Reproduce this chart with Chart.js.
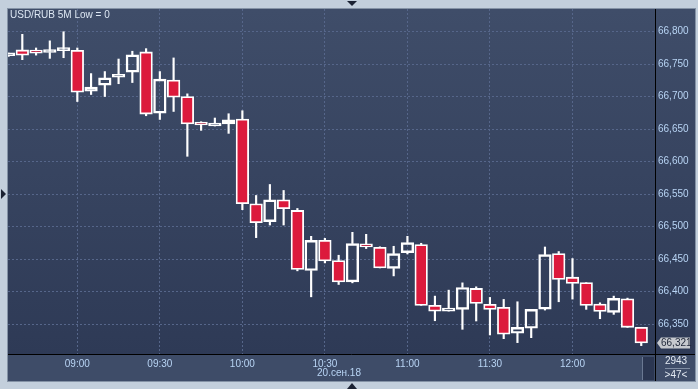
<!DOCTYPE html>
<html><head><meta charset="utf-8">
<script src="https://cdn.jsdelivr.net/npm/chart.js@4.4.1/dist/chart.umd.min.js"></script>
<style>html,body{margin:0;padding:0;background:#c3cfdc;}canvas{display:block;}</style>
</head><body>
<canvas id="c" width="698" height="389"></canvas>
<script>
const titleText = 'USD/RUB 5M Low = 0';
const dateLabel = '20.сен.18';
const barCountText = '2943';
const visibleCountText = '>47<';
const times = ['08:35','08:40','08:45','08:50','08:55','09:00','09:05','09:10','09:15','09:20','09:25','09:30',
  '09:35','09:40','09:45','09:50','09:55','10:00','10:05','10:10','10:15','10:20','10:25','10:30',
  '10:35','10:40','10:45','10:50','10:55','11:00','11:05','11:10','11:15','11:20','11:25','11:30',
  '11:35','11:40','11:45','11:50','11:55','12:00','12:05','12:10','12:15','12:20','12:25'];
const opens  = [66.763,66.772,66.770,66.768,66.771,66.7715,66.7086,66.7178,66.730,66.7377,66.7689,66.6748,
  66.7255,66.7003,66.6595,66.6549,66.658,66.6656,66.5353,66.5077,66.5414,66.525,66.4325,66.479,
  66.4478,66.415,66.4724,66.4683,66.4356,66.4601,66.4724,66.3788,66.370,66.3727,66.4049,66.3804,
  66.3758,66.3359,66.3436,66.3731,66.4586,66.4222,66.4141,66.3809,66.3681,66.389,66.3451];
const highs  = [66.767,66.796,66.775,66.786,66.800,66.775,66.7356,66.7387,66.758,66.770,66.774,66.7387,
  66.7597,66.7044,66.6615,66.6672,66.6738,66.6784,66.548,66.5649,66.5557,66.528,66.4851,66.482,
  66.456,66.4913,66.4882,66.469,66.4698,66.4851,66.4744,66.3931,66.4023,66.4135,66.4074,66.3911,
  66.388,66.3844,66.3727,66.4687,66.4617,66.4509,66.4141,66.3828,66.3931,66.390,66.3451];
const lows   = [66.762,66.757,66.764,66.759,66.760,66.6926,66.7034,66.7003,66.720,66.7218,66.6707,66.665,
  66.6773,66.6083,66.6482,66.6549,66.6436,66.5261,66.4831,66.5025,66.5025,66.432,66.392,66.4442,
  66.411,66.4135,66.4663,66.4365,66.4242,66.458,66.3788,66.3552,66.370,66.342,66.3548,66.3333,
  66.3276,66.3215,66.3291,66.3716,66.3844,66.3885,66.3727,66.3583,66.365,66.345,66.3169];
const closes = [66.766,66.764,66.767,66.770,66.773,66.707,66.7147,66.729,66.7336,66.7643,66.6733,66.727,
  66.6994,66.658,66.6564,66.6584,66.6646,66.5353,66.5061,66.5414,66.5276,66.434,66.479,66.4472,
  66.415,66.474,66.469,66.4365,66.4586,66.4755,66.3788,66.370,66.3742,66.4064,66.3819,66.3727,
  66.3344,66.3451,66.3727,66.457,66.4187,66.4126,66.3788,66.3696,66.3896,66.3451,66.321];
const yTicks = [66.35,66.40,66.45,66.50,66.55,66.60,66.65,66.70,66.75,66.80];
const xTickLabels = ['09:00','09:30','10:00','10:30','11:00','11:30','12:00'];

const fmt = v => v.toFixed(3).replace('.', ',');
const FONT = 'Liberation Sans';
const RED = '#dc1a3c';

const bodyData = times.map((t,i) => ({x:i, y:[opens[i], closes[i]]}));
const upData = times.map((t,i) => ({x:i, y:[Math.max(opens[i],closes[i]), highs[i]]}));
const loData = times.map((t,i) => ({x:i, y:[lows[i], Math.min(opens[i],closes[i])]}));
const bodyColors = times.map((t,i) => closes[i] < opens[i] ? RED : 'rgba(0,0,0,0)');

const deco = {
  id: 'deco',
  beforeDraw(chart) {
    const ctx = chart.ctx, a = chart.chartArea, W = chart.width, H = chart.height;
    ctx.save();
    ctx.fillStyle = '#c3cfdc';
    ctx.fillRect(0, 0, W, H);
    const pr = a.right + 40, pb = a.bottom + 27;
    ctx.strokeStyle = '#8593a6';
    ctx.lineWidth = 1;
    ctx.strokeRect(a.left - 0.5, a.top - 0.5, pr - a.left + 1, pb - a.top + 1);
    const g = ctx.createLinearGradient(0, a.top, 0, a.bottom);
    g.addColorStop(0, '#3f4d69');
    g.addColorStop(1, '#2e3a56');
    ctx.fillStyle = g;
    ctx.fillRect(a.left, a.top, pr - a.left, a.bottom - a.top);
    ctx.fillStyle = '#3e4c68';
    ctx.fillRect(a.left, a.bottom, pr - a.left, pb - a.bottom);
    ctx.restore();
  },
  afterDraw(chart) {
    const ctx = chart.ctx, a = chart.chartArea;
    const pr = a.right + 40, pb = a.bottom + 27;
    const ys = chart.scales.y;
    ctx.save();
    // separators
    ctx.strokeStyle = '#000000';
    ctx.lineWidth = 1;
    ctx.beginPath();
    ctx.moveTo(Math.round(a.right) + 0.5, a.top); ctx.lineTo(Math.round(a.right) + 0.5, pb);
    ctx.moveTo(a.left, Math.round(a.bottom) + 0.5); ctx.lineTo(pr, Math.round(a.bottom) + 0.5);
    ctx.stroke();
    // title
    ctx.fillStyle = '#dde7f3';
    ctx.font = '10px ' + FONT;
    ctx.textBaseline = 'middle';
    ctx.textAlign = 'left';
    ctx.fillText(titleText, a.left + 2, a.top + 6.5);
    // date
    ctx.fillStyle = '#b8d4f4';
    ctx.textAlign = 'center';
    ctx.fillText(dateLabel, a.left + 331, a.bottom + 19.5);
    // scroll thumb
    ctx.fillStyle = '#2b3651';
    ctx.fillRect(a.right - 12, a.bottom + 3, 11, pb - a.bottom - 4);
    ctx.fillStyle = '#6a7892';
    ctx.fillRect(a.right - 13, a.bottom + 3, 1, pb - a.bottom - 4);
    // counts
    ctx.fillStyle = '#e2e9f2';
    ctx.fillText(barCountText, a.right + 21, a.bottom + 7.5);
    ctx.fillText(visibleCountText, a.right + 21, a.bottom + 21);
    ctx.strokeStyle = '#7f8ca2';
    ctx.beginPath();
    ctx.moveTo(a.right + 10, a.bottom + 14.5); ctx.lineTo(a.right + 35, a.bottom + 14.5);
    ctx.stroke();
    // last price label
    const last = closes[closes.length - 1];
    const py = ys.getPixelForValue(last);
    const x0 = a.right + 2;
    ctx.fillStyle = '#c6c9ce';
    ctx.beginPath();
    ctx.moveTo(x0, py);
    ctx.lineTo(x0 + 4, py - 5.5);
    ctx.lineTo(x0 + 33, py - 5.5);
    ctx.lineTo(x0 + 33, py + 5.5);
    ctx.lineTo(x0 + 4, py + 5.5);
    ctx.closePath();
    ctx.fill();
    ctx.fillStyle = '#1e2638';
    ctx.textAlign = 'left';
    ctx.fillText(fmt(last), x0 + 4, py + 0.5);
    // triangles
    ctx.fillStyle = '#1b2233';
    const cx = 352;
    ctx.beginPath(); ctx.moveTo(cx - 5, 1); ctx.lineTo(cx + 5, 1); ctx.lineTo(cx, 6); ctx.closePath(); ctx.fill();
    ctx.beginPath(); ctx.moveTo(cx - 5, 389); ctx.lineTo(cx + 5, 389); ctx.lineTo(cx, 383); ctx.closePath(); ctx.fill();
    ctx.beginPath(); ctx.moveTo(1, 189); ctx.lineTo(1, 199); ctx.lineTo(6, 194); ctx.closePath(); ctx.fill();
    ctx.restore();
  }
};

new Chart(document.getElementById('c'), {
  type: 'bar',
  data: {
    datasets: [
      { data: bodyData, backgroundColor: bodyColors, borderColor: '#ffffff', borderWidth: 1.8,
        borderSkipped: false, barThickness: 12.6, grouped: false, minBarLength: 3 },
      { data: upData, backgroundColor: '#ffffff', borderWidth: 0, barThickness: 1.5, grouped: false },
      { data: loData, backgroundColor: '#ffffff', borderWidth: 0, barThickness: 1.5, grouped: false }
    ]
  },
  options: {
    responsive: false,
    animation: false,
    devicePixelRatio: 1,
    layout: { padding: { left: 8, top: 8, right: 3, bottom: 8 } },
    plugins: { legend: { display: false }, tooltip: { enabled: false }, title: { display: false } },
    events: [],
    scales: {
      x: {
        type: 'linear', min: -0.04, max: 47.0, offset: false,
        grid: { color: '#56668a', lineWidth: 1, drawTicks: false, offset: false },
        border: { display: false, dash: [2, 2] },
        afterBuildTicks: s => { s.ticks = xTickLabels.map(l => ({ value: times.indexOf(l) })); },
        afterFit: s => { s.height = 27; },
        ticks: { color: '#b8d4f4', font: { family: FONT, size: 10 }, padding: 4, maxRotation: 0, autoSkip: false,
          callback: v => times[v] }
      },
      y: {
        type: 'linear', position: 'right', min: 66.304, max: 66.835,
        grid: { color: '#56668a', lineWidth: 1, drawTicks: false },
        border: { display: false, dash: [2, 2] },
        afterBuildTicks: s => { s.ticks = yTicks.map(v => ({ value: v })); },
        afterFit: s => { s.width = 40; },
        ticks: { color: '#b8d4f4', font: { family: FONT, size: 10 }, padding: 3, callback: v => fmt(v) }
      }
    }
  },
  plugins: [deco]
});
</script>
</body></html>
